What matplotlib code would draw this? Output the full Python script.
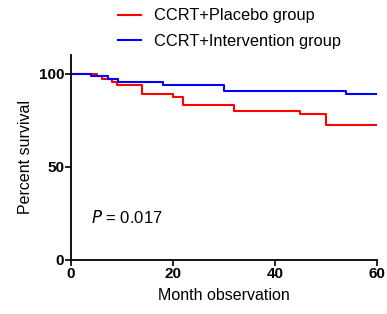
import matplotlib
matplotlib.use('Agg')
import matplotlib.pyplot as plt

plt.rcParams['font.family'] = ['Liberation Sans', 'DejaVu Sans']

# ----------------------------- Данные ---------------------------------

placebo_t = [0, 5, 6, 8, 9, 14, 20, 22, 32, 45, 50, 60]
placebo_s = [100, 98.5, 97, 95.5, 94, 89, 87.5, 83, 80, 78.5, 72.5, 72.5]

interv_t = [0, 4, 7.3, 9.3, 18, 30, 54, 60]
interv_s = [100, 98.5, 97, 95.5, 94, 90.6, 89.3, 89.3]

labels = ['CCRT+Placebo group', 'CCRT+Intervention group']
x_ticks = [0, 20, 40, 60]
y_ticks = [0, 50, 100]

# ----------------------------------------------------------------------

fig = plt.figure(figsize=(3.87, 3.14), dpi=100)
ax = fig.add_axes([0.1835, 0.172, 0.7905, 0.653])

l1, = ax.step(placebo_t, placebo_s, where='post', color='#ff0000', lw=1.5)
l2, = ax.step(interv_t, interv_s, where='post', color='#0000ff', lw=1.5)

ax.set_xlim(0, 60)
ax.set_ylim(0, 110)
ax.set_xticks(x_ticks)
ax.set_yticks(y_ticks)
for lbl in ax.get_xticklabels() + ax.get_yticklabels():
	lbl.set_fontweight('bold')
ax.tick_params(labelsize=11, width=1.2, length=4, pad=1)

ax.spines['top'].set_visible(False)
ax.spines['right'].set_visible(False)
ax.spines['left'].set_linewidth(1.3)
ax.spines['bottom'].set_linewidth(1.3)

ax.set_xlabel('Month observation', fontsize=11.5, labelpad=5)
ax.set_ylabel('Percent survival', fontsize=11.5, labelpad=4)

ax.text(3.9, 22.6, r'$\it{P}$ = 0.017', fontsize=12, va='center', ha='left')

fig.legend([l1, l2], labels, loc='upper left', bbox_to_anchor=(0.268, 1.02),
		   frameon=False, fontsize=11.8, handlelength=1.35, handletextpad=0.8,
		   labelspacing=0.65)

fig.savefig('out.png', dpi=100)
